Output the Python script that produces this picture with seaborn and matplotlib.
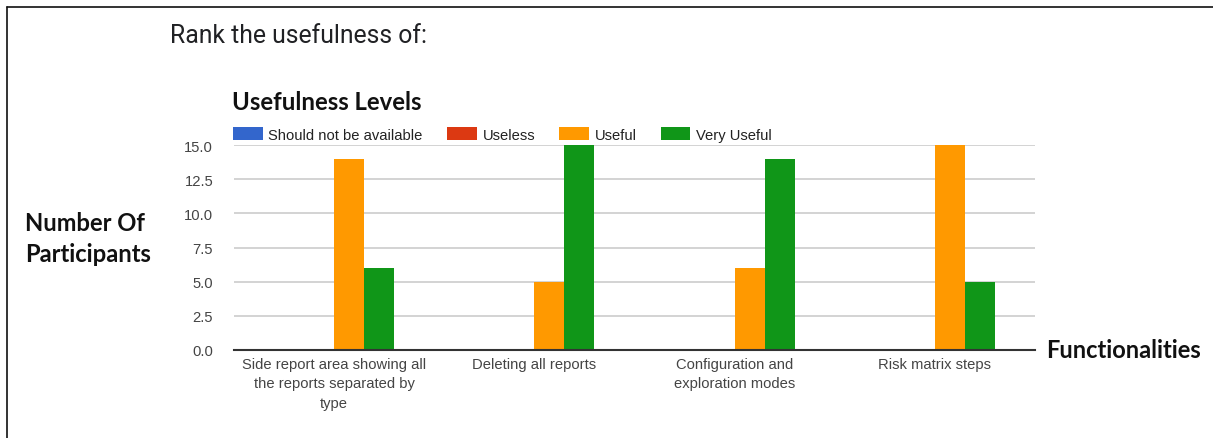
import matplotlib
matplotlib.use("Agg")
import matplotlib.pyplot as plt
import matplotlib.patches as mpatches
from matplotlib.lines import Line2D
import seaborn as sns
import pandas as pd

# Survey results: number of participants choosing each usefulness level
functionalities = [
    "Side report area showing all\nthe reports separated by\ntype",
    "Deleting all reports",
    "Configuration and\nexploration modes",
    "Risk matrix steps",
]
levels = ["Should not be available", "Useless", "Useful", "Very Useful"]
should_not_be_available = [0, 0, 0, 0]
useless = [0, 0, 0, 0]
useful = [14, 5, 6, 15]
very_useful = [6, 15, 14, 5]
y_ticks = [0.0, 2.5, 5.0, 7.5, 10.0, 12.5, 15.0]

level_colors = ["#3366cc", "#dc3912", "#ff9900", "#109618"]

rows = []
for level, values in zip(levels, [should_not_be_available, useless, useful, very_useful]):
    for func, v in zip(functionalities, values):
        rows.append({"Functionality": func, "Level": level, "Count": v})
df = pd.DataFrame(rows)

sns.set_theme(style="white")
plt.rcParams["font.family"] = ["Liberation Sans", "DejaVu Sans"]

fig = plt.figure(figsize=(12.13, 4.39), dpi=100)
ax = fig.add_axes([234 / 1213, 1 - 351 / 439, (1035 - 234) / 1213, (351 - 146) / 439])

sns.barplot(
    data=df, x="Functionality", y="Count", hue="Level",
    order=functionalities, hue_order=levels, palette=level_colors,
    width=0.6, saturation=1, ax=ax, legend=False, edgecolor="none",
)

tick_size = 10.6
ax.set_xlim(-0.5, len(functionalities) - 0.5)
ax.set_ylim(0, 15)
ax.set_yticks(y_ticks)
ax.set_yticklabels([f"{t:.1f}" for t in y_ticks])
ax.yaxis.grid(True, color="#cccccc", linewidth=1.2)
ax.set_axisbelow(True)
for side in ["top", "right", "left"]:
    ax.spines[side].set_visible(False)
ax.spines["bottom"].set_color("#333333")
ax.spines["bottom"].set_linewidth(1.5)
ax.tick_params(axis="both", length=0, labelsize=tick_size, labelcolor="#444444")
ax.tick_params(axis="y", pad=15)
ax.tick_params(axis="x", pad=5)
for lbl in ax.get_xticklabels():
    lbl.set_linespacing(1.5)
ax.set_xlabel("")
ax.set_ylabel("")

# Legend row above the plot area
handles = [mpatches.Patch(facecolor=c, edgecolor="none") for c in level_colors]
ax.legend(
    handles, levels, ncol=4, loc="lower left", bbox_to_anchor=(-0.003, 1.008),
    frameon=False, fontsize=tick_size, handlelength=2.0, handleheight=0.95,
    handletextpad=0.4, columnspacing=1.65, borderaxespad=0.1,
    borderpad=0.0, labelcolor="#222222",
)

# Titles and axis captions
fig.text(170 / 1213, 1 - 36 / 439, "Rank the usefulness of:", family=["Roboto", "DejaVu Sans"],
         fontsize=17.8, color="#202124", va="center", ha="left")
fig.text(232 / 1213, 1 - 103 / 439, "Usefulness Levels", family=["Lato", "DejaVu Sans"],
         fontweight="bold", fontsize=17.2, color="#111111", va="center", ha="left")
fig.text(25 / 1213, 1 - 239 / 439, "Number Of\nParticipants", family=["Lato", "DejaVu Sans"],
         fontweight="bold", fontsize=17.1, color="#111111", va="center", ha="left",
         multialignment="left", linespacing=1.47)
fig.text(1046 / 1213, 1 - 351 / 439, "Functionalities", family=["Lato", "DejaVu Sans"],
         fontweight="bold", fontsize=17.0, color="#111111", va="center", ha="left")

# Frame lines along the top and left edges
fig.add_artist(Line2D([7 / 1213, 1.0], [1 - 8 / 439, 1 - 8 / 439], color="#111111",
                      linewidth=1.2, transform=fig.transFigure))
fig.add_artist(Line2D([7 / 1213, 7 / 1213], [0.0, 1 - 8 / 439], color="#111111",
                      linewidth=1.2, transform=fig.transFigure))

fig.savefig("out.png", dpi=100)
